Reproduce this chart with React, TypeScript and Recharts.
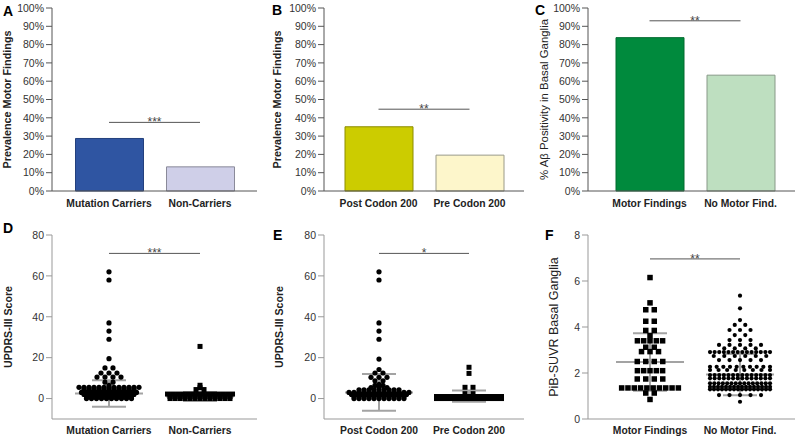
import React from 'react'
import { BarChart, Bar, Cell, XAxis, YAxis, ScatterChart, Scatter, ReferenceLine } from 'recharts'

const FONT = '"Liberation Sans", Arial, Helvetica, sans-serif'

// ---- axis ticks ----
const percentTicks = [0, 10, 20, 30, 40, 50, 60, 70, 80, 90, 100]
const updrsTicks = [0, 20, 40, 60, 80]
const pibTicks = [0, 2, 4, 6, 8]

// ---- top row: prevalence bars ----
const groupsA = ['Mutation Carriers', 'Non-Carriers']
const prevalenceA = [28.7, 13.2]
const groupsB = ['Post Codon 200', 'Pre Codon 200']
const prevalenceB = [35.1, 19.6]
const groupsC = ['Motor Findings', 'No Motor Find.']
const positivityC = [83.8, 63.3]

// ---- bottom row: individual scores, [value, number of subjects at that value] ----
type Row = [number, number]
const updrsCarriers: Row[] = [[62, 1], [58, 1], [37, 1], [33, 1], [29, 1], [19.5, 1], [15, 2], [12.5, 3], [10.5, 4], [8, 2], [6.5, 1], [5.5, 13], [4.5, 11], [3, 12], [2, 11], [1, 10], [0, 10]]
const updrsNonCarriers: Row[] = [[25.5, 1], [6.5, 1], [5.3, 1], [4.4, 2], [2.2, 14], [1, 13], [0, 13]]
const updrsPost: Row[] = [[62, 1], [58, 1], [37, 1], [33, 1], [29, 1], [19.3, 1], [14.2, 1], [12.5, 2], [10.4, 3], [8.7, 2], [7, 1], [6.4, 2], [5.3, 3], [4.3, 9], [3, 13], [2, 12], [1, 11], [0, 11]]
const updrsPre: Row[] = [[15.3, 1], [12.3, 1], [5.5, 2], [2.4, 2], [1, 14], [0, 14]]
const pibMotor: Row[] = [[6.15, 1], [5.05, 1], [4.75, 2], [4.25, 2], [3.85, 2], [3.62, 1], [3.4, 5], [3.12, 2], [2.93, 3], [2.5, 4], [2.1, 5], [1.74, 4], [1.35, 10], [1.13, 2], [0.85, 1]]
const pibNoMotor: Row[] = [[5.36, 1], [4.81, 1], [4.3, 1], [4.09, 2], [3.87, 3], [3.65, 2], [3.43, 3], [3.22, 5], [3.07, 4], [2.91, 14], [2.74, 6], [2.56, 5], [2.27, 10], [2.13, 8], [1.91, 14], [1.77, 14], [1.55, 15], [1.4, 16], [1.29, 16], [1.04, 5], [0.75, 1]]

// mean and SD per group
const statsD = [{ mean: 2.5, sd: 6.5 }, { mean: 1.0, sd: 2.2 }]
const statsE = [{ mean: 3.0, sd: 9.0 }, { mean: 1.2, sd: 2.8 }]
const statsF = [{ mean: 2.48, sd: 1.25 }, { mean: 1.93, sd: 0.9 }]

// significance bars
const sigA = { y: 37.5, stars: '***' }
const sigB = { y: 44.7, stars: '**' }
const sigC = { y: 93, stars: '**' }
const sigD = { y: 71, stars: '***' }
const sigE = { y: 71, stars: '*' }
const sigF = { y: 6.96, stars: '**' }

interface Box {
  left: number
  top: number
  width: number
  height: number
  margin: { top: number; right: number; bottom: number; left: number }
  yAxisWidth: number
  xAxisHeight: number
}

interface LabelFont {
  size: number
  weight: string
}

function yLabelProps(value: string, font: LabelFont) {
  return {
    value,
    angle: -90,
    position: 'insideLeft' as const,
    offset: 5,
    style: { textAnchor: 'middle' },
    fontSize: font.size,
    fontWeight: font.weight,
    fill: '#222',
    fontFamily: FONT,
  }
}

function BarPanel(props: {
  box: Box
  groups: string[]
  values: number[]
  fills: string[]
  strokes: string[]
  yLabel: string
  labelFont: LabelFont
  padding: { left: number; right: number }
  sig: { y: number; stars: string }
}) {
  const { box, groups, values, fills, strokes, yLabel, labelFont, padding, sig } = props
  const data = groups.map((name, i) => ({ name, value: values[i] }))
  return (
    <div style={{ position: 'absolute', left: box.left, top: box.top }}>
      <BarChart width={box.width} height={box.height} data={data} margin={box.margin}>
        <XAxis
          dataKey="name"
          padding={padding}
          tickLine={false}
          axisLine={{ stroke: '#555' }}
          height={box.xAxisHeight}
          interval={0}
          tickMargin={3}
          tick={{ fontSize: 10.3, fontWeight: 'bold', fill: '#222', fontFamily: FONT }}
        />
        <XAxis xAxisId="top" dataKey="name" orientation="top" height={0} tick={false} tickLine={false} axisLine={{ stroke: '#aaa' }} />
        <YAxis
          type="number"
          domain={[0, 100]}
          ticks={percentTicks}
          interval={0}
          tickFormatter={(v) => `${v}%`}
          width={box.yAxisWidth}
          axisLine={{ stroke: '#555' }}
          tickLine={{ stroke: '#555' }}
          tick={{ fontSize: 10.5, fill: '#333', fontFamily: FONT }}
          label={yLabelProps(yLabel, labelFont)}
        />
        <YAxis yAxisId="right" orientation="right" width={0} domain={[0, 1]} tick={false} tickLine={false} axisLine={{ stroke: '#aaa' }} />
        <Bar dataKey="value" barSize={68} isAnimationActive={false}>
          {data.map((d, i) => (
            <Cell key={d.name} fill={fills[i]} stroke={strokes[i]} strokeWidth={1} />
          ))}
        </Bar>
        <ReferenceLine
          segment={[{ x: groups[0], y: sig.y }, { x: groups[1], y: sig.y }]}
          stroke="#555"
          label={{ value: sig.stars, position: 'top', offset: -4, fontSize: 12, fill: '#444', fontFamily: FONT }}
        />
      </BarChart>
    </div>
  )
}

interface SwarmLayout {
  sparse: number // gap between points in rows of up to 4
  dense: number // gap in bigger rows
  maxWidth: number
}

// spread each row of equal values sideways around its group centre
function swarm(rows: Row[], center: number, layout: SwarmLayout, pxPerUnit: number) {
  const pts: { x: number; y: number }[] = []
  rows.forEach(([v, n]) => {
    let sp = 0
    if (n > 1) sp = n <= 4 ? layout.sparse : Math.min(layout.dense, layout.maxWidth / (n - 1))
    for (let i = 0; i < n; i++) {
      pts.push({ x: center + ((i - (n - 1) / 2) * sp) / pxPerUnit, y: v })
    }
  })
  return pts
}

const dot = (r: number) => (p: any) => <circle cx={p.cx} cy={p.cy} r={r} fill="#000" />
const square = (s: number) => (p: any) => <rect x={p.cx - s / 2} y={p.cy - s / 2} width={s} height={s} fill="#000" />

function ScatterPanel(props: {
  box: Box
  groups: string[]
  rows: Row[][]
  shapes: ((p: any) => React.ReactElement)[]
  layouts: SwarmLayout[]
  stats: { mean: number; sd: number }[]
  xDomain: [number, number]
  yDomain: [number, number]
  yTicks: number[]
  yLabel: string
  labelFont: LabelFont
  sig: { y: number; stars: string }
}) {
  const { box, groups, rows, shapes, layouts, stats, xDomain, yDomain, yTicks, yLabel, labelFont, sig } = props
  const plotW = box.width - box.margin.left - box.margin.right - box.yAxisWidth
  const pxPerUnit = plotW / (xDomain[1] - xDomain[0])
  const series = rows.map((r, i) => swarm(r, i + 1, layouts[i], pxPerUnit))
  const meanHalf = 34 / pxPerUnit
  const sdHalf = 17 / pxPerUnit
  const statColor = '#a3a3a3'
  return (
    <div style={{ position: 'absolute', left: box.left, top: box.top }}>
      <ScatterChart width={box.width} height={box.height} margin={box.margin}>
        <XAxis
          type="number"
          dataKey="x"
          domain={xDomain}
          ticks={[1, 2]}
          interval={0}
          allowDataOverflow
          tickFormatter={(v) => groups[Math.round(v) - 1] ?? ''}
          tickLine={false}
          axisLine={{ stroke: '#999' }}
          height={box.xAxisHeight}
          tick={{ fontSize: 10.3, fontWeight: 'bold', fill: '#222', fontFamily: FONT }}
        />
        <XAxis xAxisId="top" type="number" orientation="top" domain={[0, 1]} height={0} tick={false} tickLine={false} axisLine={{ stroke: '#999' }} />
        <YAxis
          type="number"
          dataKey="y"
          domain={yDomain}
          ticks={yTicks}
          interval={0}
          allowDataOverflow
          width={box.yAxisWidth}
          axisLine={{ stroke: '#999' }}
          tickLine={{ stroke: '#999' }}
          tick={{ fontSize: 10.5, fill: '#333', fontFamily: FONT }}
          label={yLabelProps(yLabel, labelFont)}
        />
        <YAxis yAxisId="right" orientation="right" width={0} domain={[0, 1]} tick={false} tickLine={false} axisLine={{ stroke: '#999' }} />
        {series.map((pts, i) => (
          <Scatter key={groups[i]} name={groups[i]} data={pts} shape={shapes[i]} isAnimationActive={false} />
        ))}
        {stats.map((s, i) => {
          const c = i + 1
          return [
            <ReferenceLine key={`m${i}`} segment={[{ x: c - meanHalf, y: s.mean }, { x: c + meanHalf, y: s.mean }]} stroke={statColor} strokeWidth={2} />,
            <ReferenceLine key={`u${i}`} segment={[{ x: c - sdHalf, y: s.mean + s.sd }, { x: c + sdHalf, y: s.mean + s.sd }]} stroke={statColor} strokeWidth={2} />,
            <ReferenceLine key={`l${i}`} segment={[{ x: c - sdHalf, y: s.mean - s.sd }, { x: c + sdHalf, y: s.mean - s.sd }]} stroke={statColor} strokeWidth={2} />,
            <ReferenceLine key={`v${i}`} segment={[{ x: c, y: s.mean - s.sd }, { x: c, y: s.mean + s.sd }]} stroke={statColor} strokeWidth={2} />,
          ]
        })}
        <ReferenceLine
          segment={[{ x: 1, y: sig.y }, { x: 2, y: sig.y }]}
          stroke="#555"
          label={{ value: sig.stars, position: 'top', offset: -4, fontSize: 12, fill: '#444', fontFamily: FONT }}
        />
      </ScatterChart>
    </div>
  )
}

const boldLabel: LabelFont = { size: 10.8, weight: 'bold' }

const letterStyle = (left: number, top: number): React.CSSProperties => ({
  position: 'absolute',
  left,
  top,
  fontSize: 14,
  lineHeight: '14px',
  fontWeight: 'bold',
  fontFamily: FONT,
  color: '#000',
})

export default function App() {
  return (
    <div style={{ position: 'absolute', left: 0, top: 0, width: 799, height: 440, background: '#fff', fontFamily: FONT }}>
      <BarPanel
        box={{ left: 0, top: 0, width: 265, height: 220, margin: { top: 8, right: 8, bottom: 4, left: 2 }, yAxisWidth: 50, xAxisHeight: 25 }}
        groups={groupsA}
        values={prevalenceA}
        fills={['#2f55a2', '#cfcfe8']}
        strokes={['#23407d', '#8a8a99']}
        yLabel="Prevalence Motor Findings"
        labelFont={boldLabel}
        padding={{ left: 11.5, right: 11.5 }}
        sig={sigA}
      />
      <BarPanel
        box={{ left: 265, top: 0, width: 265, height: 220, margin: { top: 8, right: 6, bottom: 4, left: 7 }, yAxisWidth: 52, xAxisHeight: 25 }}
        groups={groupsB}
        values={prevalenceB}
        fills={['#cccc00', '#fdf6cb']}
        strokes={['#8c8c00', '#9a9a88']}
        yLabel="Prevalence Motor Findings"
        labelFont={boldLabel}
        padding={{ left: 9, right: 9 }}
        sig={sigB}
      />
      <BarPanel
        box={{ left: 530, top: 0, width: 269, height: 220, margin: { top: 8, right: 4, bottom: 4, left: 9 }, yAxisWidth: 49, xAxisHeight: 25 }}
        groups={groupsC}
        values={positivityC}
        fills={['#008a3d', '#bedfc0']}
        strokes={['#006b2f', '#889988']}
        yLabel="% Aβ Positivity in Basal Ganglia"
        labelFont={{ size: 11.4, weight: 'normal' }}
        padding={{ left: 16, right: 9 }}
        sig={sigC}
      />
      <ScatterPanel
        box={{ left: 0, top: 220, width: 265, height: 220, margin: { top: 15, right: 8, bottom: 1, left: 3 }, yAxisWidth: 49, xAxisHeight: 20 }}
        groups={groupsA}
        rows={[updrsCarriers, updrsNonCarriers]}
        shapes={[dot(2.6), square(5)]}
        layouts={[{ sparse: 8, dense: 5, maxWidth: 62 }, { sparse: 8, dense: 5, maxWidth: 66 }]}
        stats={statsD}
        xDomain={[0.374, 2.626]}
        yDomain={[-10, 80]}
        yTicks={updrsTicks}
        yLabel="UPDRS-III Score"
        labelFont={{ size: 10.6, weight: 'bold' }}
        sig={sigD}
      />
      <ScatterPanel
        box={{ left: 265, top: 220, width: 265, height: 220, margin: { top: 15, right: 6, bottom: 1, left: 9 }, yAxisWidth: 50, xAxisHeight: 20 }}
        groups={groupsB}
        rows={[updrsPost, updrsPre]}
        shapes={[dot(2.6), square(5)]}
        layouts={[{ sparse: 8, dense: 5, maxWidth: 62 }, { sparse: 8, dense: 5, maxWidth: 66 }]}
        stats={statsE}
        xDomain={[0.389, 2.611]}
        yDomain={[-10, 80]}
        yTicks={updrsTicks}
        yLabel="UPDRS-III Score"
        labelFont={{ size: 10.6, weight: 'bold' }}
        sig={sigE}
      />
      <ScatterPanel
        box={{ left: 530, top: 220, width: 269, height: 220, margin: { top: 15, right: 4, bottom: 1, left: 19 }, yAxisWidth: 39, xAxisHeight: 20 }}
        groups={groupsC}
        rows={[pibMotor, pibNoMotor]}
        shapes={[square(5.5), dot(2.1)]}
        layouts={[{ sparse: 8.5, dense: 6.3, maxWidth: 60 }, { sparse: 10.5, dense: 10.5, maxWidth: 60 }]}
        stats={statsF}
        xDomain={[0.311, 2.611]}
        yDomain={[0, 8]}
        yTicks={pibTicks}
        yLabel="PiB-SUVR Basal Ganglia"
        labelFont={{ size: 12.5, weight: 'normal' }}
        sig={sigF}
      />
      <span style={letterStyle(3, 4)}>A</span>
      <span style={letterStyle(272, 3)}>B</span>
      <span style={letterStyle(535, 3)}>C</span>
      <span style={letterStyle(3, 221)}>D</span>
      <span style={letterStyle(273, 228)}>E</span>
      <span style={letterStyle(545, 228)}>F</span>
    </div>
  )
}
